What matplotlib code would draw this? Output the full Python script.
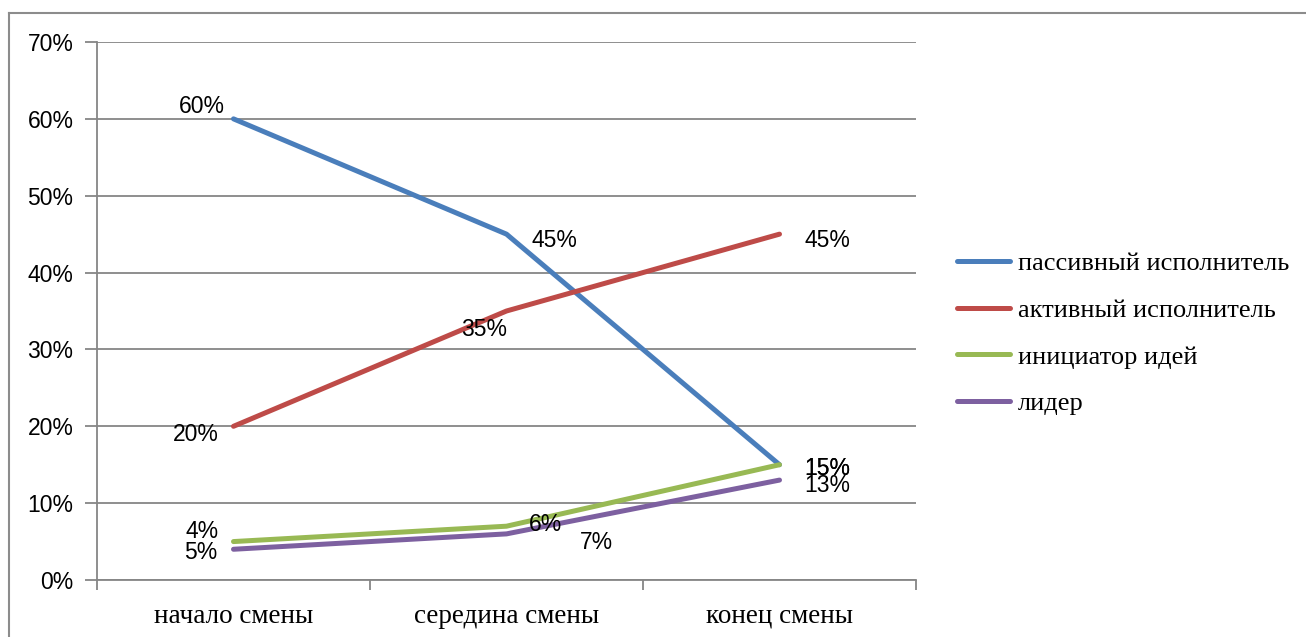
import matplotlib
matplotlib.use("Agg")
import matplotlib.pyplot as plt
from matplotlib.lines import Line2D

categories = ["начало смены", "середина смены", "конец смены"]
series_names = ["пассивный исполнитель", "активный исполнитель", "инициатор идей", "лидер"]
passive = [60, 45, 15]
active = [20, 35, 45]
initiator = [5, 7, 15]
leader = [4, 6, 13]
# data labels exactly as printed on the chart
passive_labels = ["60%", "45%", "15%"]
active_labels = ["20%", "35%", "45%"]
initiator_labels = ["4%", "6%", "15%"]
leader_labels = ["5%", "7%", "13%"]
yticks = [0, 10, 20, 30, 40, 50, 60, 70]

colors = ["#4A7EBB", "#BE4B48", "#98B954", "#7D60A0"]
values = [passive, active, initiator, leader]
labels = [passive_labels, active_labels, initiator_labels, leader_labels]
# label offsets in pixels (dx, dy) relative to point
offsets = [
    [(-32, 12), (48, -6), (48, -4)],
    [(-38, -8), (-22, -19), (48, -6)],
    [(-31, 10), (39, 2), (48, -4)],
    [(-33, -3), (90, -9), (48, -5)],
]

W, H = 1306, 637
fig = plt.figure(figsize=(W / 100, H / 100), dpi=100)
fig.patch.set_facecolor("white")

# outer chart-area border (top and left visible)
fig.add_artist(Line2D([9 / W, 1.0], [1 - 13 / H, 1 - 13 / H], color="#8c8c8c", lw=1.5, transform=fig.transFigure))
fig.add_artist(Line2D([9 / W, 9 / W], [1 - 13 / H, 0], color="#8c8c8c", lw=1.5, transform=fig.transFigure))

ax = fig.add_axes([97 / W, 1 - 580 / H, (916 - 97) / W, (580 - 42) / H])
x = list(range(len(categories)))
for v, c, name in zip(values, colors, series_names):
    ax.plot(x, v, color=c, lw=3.6, label=name, solid_capstyle="round", solid_joinstyle="round", zorder=3)

for v, labs, offs in zip(values, labels, offsets):
    for xi, yi, t, (dx, dy) in zip(x, v, labs, offs):
        ax.annotate(t, (xi, yi), xytext=(dx, dy), textcoords="offset pixels",
                    ha="center", va="center", fontsize=16.5, family="Liberation Sans", color="#000000", zorder=4)

ax.set_xlim(-0.5, 2.5)
ax.set_ylim(0, 70)
ax.set_yticks(yticks)
ax.set_yticklabels([f"{t}%" for t in yticks], family="Liberation Sans", fontsize=16.5)
ax.yaxis.grid(True, color="#868686", lw=1.3)
ax.set_axisbelow(True)

ax.set_xticks([-0.5, 0.5, 1.5, 2.5])
ax.set_xticklabels([])
ax.set_xticks(x, minor=True)
ax.set_xticklabels(categories, minor=True, family="Liberation Serif", fontsize=19.5)
ax.tick_params(axis="x", which="minor", length=0, pad=17)
ax.tick_params(axis="x", which="major", length=7, color="#868686", width=1.3)
ax.tick_params(axis="y", length=9, color="#868686", width=1.3, pad=8)

for s in ["top", "right"]:
    ax.spines[s].set_visible(False)
for s in ["left", "bottom"]:
    ax.spines[s].set_color("#868686")
    ax.spines[s].set_linewidth(1.3)

leg = ax.legend(loc="center left", bbox_to_anchor=(1.021, 0.458), frameon=False,
                prop={"family": "Liberation Serif", "size": 19},
                handlelength=2.0, handletextpad=0.3, labelspacing=0.88)
for lh in leg.get_lines():
    lh.set_linewidth(3.6)

fig.savefig("out.png", dpi=100)
